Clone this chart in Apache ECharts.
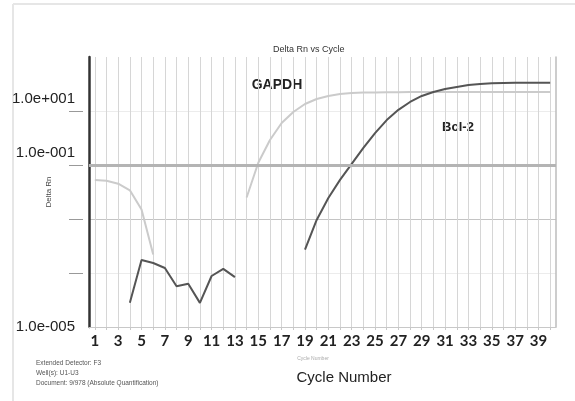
<!DOCTYPE html>
<html>
<head>
<meta charset="utf-8">
<script src="https://cdn.jsdelivr.net/npm/echarts@6/dist/echarts.min.js"></script>
<style>
  html, body { margin: 0; padding: 0; background: #fff; }
  #chart { width: 575px; height: 401px; }
</style>
</head>
<body>
<div id="chart"></div>
<script>
const cycles = [1, 2, 3, 4, 5, 6, 7, 8, 9, 10, 11, 12, 13, 14, 15, 16, 17, 18, 19, 20,
  21, 22, 23, 24, 25, 26, 27, 28, 29, 30, 31, 32, 33, 34, 35, 36, 37, 38, 39, 40];

// Delta Rn per cycle (null = not plotted on log scale)
const gapdh = [0.0053, 0.0051, 0.0045, 0.0034, 0.0015, 0.00022,
  null, null, null, null, null, null, null,
  0.0025, 0.011, 0.029, 0.060, 0.096, 0.135, 0.167, 0.190, 0.207, 0.215,
  0.219, 0.221, 0.222, 0.223, 0.224, 0.224, 0.225, 0.225, 0.225, 0.225,
  0.226, 0.226, 0.226, 0.226, 0.226, 0.226, 0.226];
const bcl2 = [null, null, null,
  0.000028, 0.000174, 0.000153, 0.000124, 0.000057, 0.000063, 0.000028, 0.000088, 0.000119, 0.000084,
  null, null, null, null, null,
  0.00027, 0.00096, 0.00245, 0.0053, 0.0105, 0.0207, 0.039, 0.068, 0.105, 0.147,
  0.190, 0.225, 0.255, 0.278, 0.303, 0.316, 0.325, 0.330, 0.332, 0.333, 0.334, 0.334];
const threshold = 0.01;

const yTickExps = [-5, -2, -1];
const yTickTexts = ['1.0e-005', '1.0e-001', '1.0e+001'];
const dashTicks = [0.0001, 0.001, 0.01, 0.1];
const infoLines = ['Extended Detector: F3', 'Well(s): U1-U3', 'Document: 9/978 (Absolute Quantification)'];

const chart = echarts.init(document.getElementById('chart'), null, { renderer: 'canvas' });

const logAxisBase = { type: 'log', logBase: 10, min: 0.00001, max: 1 };

const option = {
  animation: false,
  backgroundColor: '#fff',
  title: {
    text: 'Delta Rn vs Cycle',
    left: 268,
    top: 40,
    textStyle: { fontSize: 9, fontWeight: 'normal', color: '#333', fontFamily: 'Liberation Sans' }
  },
  grid: { left: 89, right: 19, top: 57, bottom: 74 },
  xAxis: {
    type: 'category',
    data: cycles,
    boundaryGap: true,
    axisLine: { lineStyle: { color: '#c8c8c8', width: 1 } },
    axisTick: { show: true, alignWithLabel: true, interval: 0, length: 3, lineStyle: { color: '#c8c8c8' } },
    axisLabel: {
      interval: 1,
      margin: 7,
      fontFamily: 'Lato',
      fontWeight: 'bold',
      fontSize: 15,
      color: '#222'
    },
    splitLine: { show: true, interval: 0, alignWithLabel: true, lineStyle: { color: '#d6d6d6', width: 1 } }
  },
  yAxis: [
    Object.assign({}, logAxisBase, {
      position: 'left',
      axisLine: { show: true, lineStyle: { color: '#333', width: 2.5 } },
      axisTick: { show: false },
      axisLabel: {
        margin: 14,
        formatter: function (v) {
          const i = yTickExps.indexOf(Math.round(Math.log10(v)));
          if (i < 0) return '';
          return i === 0 ? '{n|' + yTickTexts[i] + '}' : '{up|' + yTickTexts[i] + '}';
        },
        rich: {
          n: { fontFamily: 'Liberation Sans', fontSize: 15, color: '#222' },
          up: { fontFamily: 'Liberation Sans', fontSize: 15, color: '#222', padding: [0, 0, 25, 0] }
        }
      },
      splitLine: {
        show: true,
        lineStyle: { color: ['#c8c8c8', '#ececec', '#c4c4c4', '#b4b4b4', '#ececec', 'rgba(0,0,0,0)'], width: 1 }
      }
    }),
    Object.assign({}, logAxisBase, {
      position: 'left',
      offset: 6,
      axisLine: { show: false },
      axisTick: { show: true, length: 14, customValues: dashTicks, lineStyle: { color: '#999', width: 1 } },
      axisLabel: { show: false },
      splitLine: { show: false }
    }),
    Object.assign({}, logAxisBase, {
      position: 'right',
      axisLine: { show: true, lineStyle: { color: '#bdbdbd', width: 1.5 } },
      axisTick: { show: false },
      axisLabel: { show: false },
      splitLine: { show: false }
    })
  ],
  series: [
    {
      name: 'GAPDH',
      type: 'line',
      data: gapdh,
      symbol: 'none',
      connectNulls: false,
      lineStyle: { color: '#cbcbcb', width: 2 },
      itemStyle: { color: '#cbcbcb' },
      markLine: {
        silent: true,
        symbol: 'none',
        label: { show: false },
        lineStyle: { color: '#b4b4b4', width: 3, type: 'solid' },
        data: [{ yAxis: threshold }]
      }
    },
    {
      name: 'Bcl-2',
      type: 'line',
      data: bcl2,
      symbol: 'none',
      connectNulls: false,
      lineStyle: { color: '#555', width: 2 },
      itemStyle: { color: '#555' }
    }
  ],
  graphic: [
    { type: 'line', shape: { x1: 13, y1: 4, x2: 575, y2: 4 }, style: { stroke: '#e6e6e6', lineWidth: 2 } },
    { type: 'line', shape: { x1: 13, y1: 4, x2: 13, y2: 401 }, style: { stroke: '#e6e6e6', lineWidth: 2 } },
    { type: 'text', x: 277, y: 85, style: { text: 'GAPDH', align: 'center', verticalAlign: 'middle', font: 'bold 14px "Liberation Sans"', fill: '#222' } },
    { type: 'text', x: 458, y: 127, style: { text: 'Bcl-2', align: 'center', verticalAlign: 'middle', font: 'bold 13px "Liberation Sans"', fill: '#222' } },
    { type: 'text', x: 344, y: 378, style: { text: 'Cycle Number', align: 'center', verticalAlign: 'middle', font: '15px "Liberation Sans"', fill: '#222' } },
    { type: 'text', x: 313, y: 359, style: { text: 'Cycle Number', align: 'center', verticalAlign: 'middle', font: '5px "Liberation Sans"', fill: '#aaa' } },
    { type: 'text', x: 49, y: 192, rotation: Math.PI / 2, style: { text: 'Delta Rn', align: 'center', verticalAlign: 'middle', font: '8px "Liberation Sans"', fill: '#444' } },
    { type: 'text', x: 36, y: 363, style: { text: infoLines[0], verticalAlign: 'middle', font: '6.5px "Liberation Sans"', fill: '#555' } },
    { type: 'text', x: 36, y: 373, style: { text: infoLines[1], verticalAlign: 'middle', font: '6.5px "Liberation Sans"', fill: '#555' } },
    { type: 'text', x: 36, y: 383, style: { text: infoLines[2], verticalAlign: 'middle', font: '6.5px "Liberation Sans"', fill: '#555' } }
  ]
};

chart.setOption(option);
window.addEventListener('resize', () => chart.resize());
</script>
</body>
</html>
